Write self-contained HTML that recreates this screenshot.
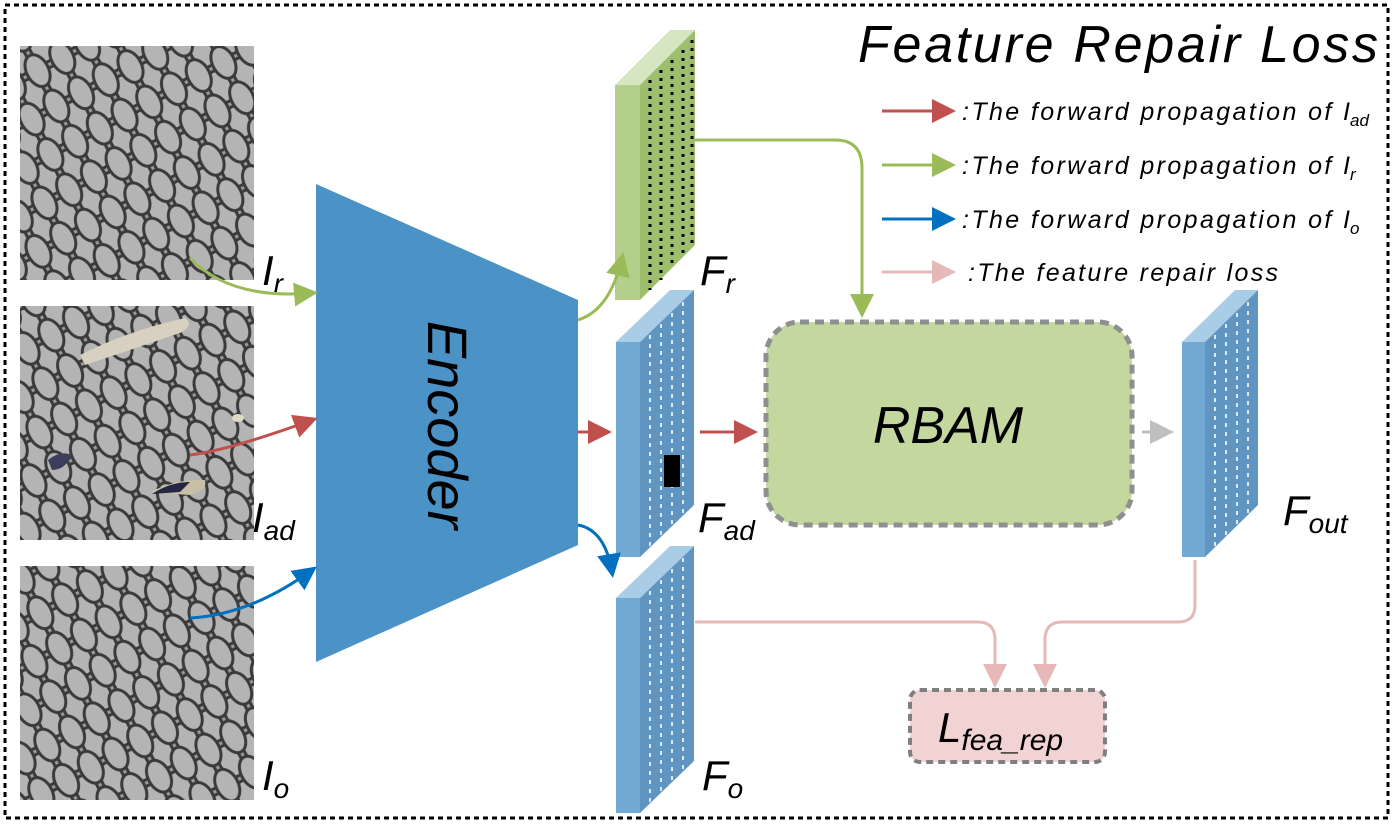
<!DOCTYPE html>
<html><head><meta charset="utf-8"><style>
html,body{margin:0;padding:0;background:#fff;}
svg{display:block;}
text{font-family:"Liberation Sans",sans-serif;font-style:italic;fill:#000;}
</style></head><body>
<svg width="1394" height="824" viewBox="0 0 1394 824" xmlns="http://www.w3.org/2000/svg">
<defs>
<pattern id="mesh" width="28" height="40" patternUnits="userSpaceOnUse" patternTransform="rotate(-28)">
<rect width="28" height="40" fill="#9a9a9a"/>
<ellipse cx="14" cy="20" rx="11" ry="17" fill="#b4b4b4" stroke="#3a3a3a" stroke-width="3"/>
<ellipse cx="0" cy="0" rx="11" ry="17" fill="#b4b4b4" stroke="#3a3a3a" stroke-width="3"/>
<ellipse cx="28" cy="0" rx="11" ry="17" fill="#b4b4b4" stroke="#3a3a3a" stroke-width="3"/>
<ellipse cx="0" cy="40" rx="11" ry="17" fill="#b4b4b4" stroke="#3a3a3a" stroke-width="3"/>
<ellipse cx="28" cy="40" rx="11" ry="17" fill="#b4b4b4" stroke="#3a3a3a" stroke-width="3"/>
</pattern>
<marker id="ar" markerWidth="8" markerHeight="8" refX="6" refY="4" orient="auto" viewBox="0 0 8 8"><path d="M0,0L8,4L0,8z" fill="#c0504d"/></marker>
<marker id="ag" markerWidth="8" markerHeight="8" refX="6" refY="4" orient="auto" viewBox="0 0 8 8"><path d="M0,0L8,4L0,8z" fill="#9bbb59"/></marker>
<marker id="ab" markerWidth="8" markerHeight="8" refX="6" refY="4" orient="auto" viewBox="0 0 8 8"><path d="M0,0L8,4L0,8z" fill="#0070c0"/></marker>
<marker id="ap" markerWidth="8" markerHeight="8" refX="6" refY="4" orient="auto" viewBox="0 0 8 8"><path d="M0,0L8,4L0,8z" fill="#e6b9b8"/></marker>
<marker id="agr" markerWidth="8" markerHeight="8" refX="6" refY="4" orient="auto" viewBox="0 0 8 8"><path d="M0,0L8,4L0,8z" fill="#bfbfbf"/></marker>
</defs>
<rect x="5" y="5" width="1383" height="813" fill="none" stroke="#000" stroke-width="3" stroke-dasharray="5,4"/>
<text x="858" y="62" font-size="52" textLength="520" lengthAdjust="spacing">Feature Repair Loss</text>

<!-- images -->
<rect x="20" y="46" width="234" height="234" fill="url(#mesh)"/>
<rect x="20" y="306" width="234" height="234" fill="url(#mesh)"/>
<rect x="20" y="566" width="234" height="234" fill="url(#mesh)"/>
<path d="M80,355 Q130,330 185,318 Q195,325 180,333 Q130,350 85,365z" fill="#d8d0c0"/>
<path d="M150,492 Q180,478 205,480 Q208,490 190,495z" fill="#c8bfa6"/>
<path d="M152,494 Q170,482 190,482 L180,492z" fill="#262645"/>
<path d="M48,460 Q60,450 72,455 Q65,470 52,470z" fill="#3a3e5c"/>
<ellipse cx="238" cy="418" rx="6" ry="4" fill="#ddd8c8"/>

<text x="262" y="285" font-size="42">I<tspan font-size="28" dy="8">r</tspan></text>
<text x="252" y="532" font-size="42">I<tspan font-size="28" dy="8">ad</tspan></text>
<text x="262" y="790" font-size="42">I<tspan font-size="28" dy="8">o</tspan></text>

<!-- encoder -->
<path d="M316,184 L578,300 L578,545 L316,662z" fill="#4b92c6"/>
<text x="0" y="0" font-size="56" transform="translate(428,425) rotate(90)" text-anchor="middle">Encoder</text>

<!-- input arrows -->
<path d="M190,258 Q230,300 312,293" fill="none" stroke="#9bbb59" stroke-width="3" marker-end="url(#ag)"/>
<path d="M190,455 Q230,450 312,420" fill="none" stroke="#c0504d" stroke-width="3" marker-end="url(#ar)"/>
<path d="M190,618 Q250,615 312,570" fill="none" stroke="#0070c0" stroke-width="3" marker-end="url(#ab)"/>

<!-- Fr -->
<path d="M615,85 L640,85 L695,30 L670,30z" fill="#d6e6c0"/>
<rect x="615" y="85" width="25" height="215" fill="#b3cf8b"/>
<path d="M640,85 L695,30 L695,245 L640,300z" fill="#9dbf6d"/>
<g stroke="#000" stroke-width="3" stroke-dasharray="3,5">
<path d="M650,80 V290 M661,70 V280 M672,60 V268 M683,50 V256 M692,40 V246"/>
</g>
<text x="700" y="285" font-size="42">F<tspan font-size="28" dy="8">r</tspan></text>

<!-- Fad -->
<path d="M616,342 L640,342 L694,290 L670,290z" fill="#a9cde6"/>
<rect x="616" y="342" width="24" height="215" fill="#72aad4"/>
<path d="M640,342 L694,290 L694,505 L640,557z" fill="#5f95c0"/>
<g stroke="#d8ecf8" stroke-width="2" stroke-dasharray="4,5">
<path d="M650,335 V548 M661,324 V537 M672,313 V526 M683,302 V515"/>
</g>
<rect x="664" y="455" width="16" height="32" fill="#000"/>
<text x="698" y="532" font-size="42">F<tspan font-size="28" dy="8">ad</tspan></text>

<!-- Fo -->
<path d="M616,598 L640,598 L694,546 L670,546z" fill="#a9cde6"/>
<rect x="616" y="598" width="24" height="215" fill="#72aad4"/>
<path d="M640,598 L694,546 L694,761 L640,813z" fill="#5f95c0"/>
<g stroke="#d8ecf8" stroke-width="2" stroke-dasharray="4,5">
<path d="M650,591 V804 M661,580 V793 M672,569 V782 M683,558 V771"/>
</g>
<text x="702" y="790" font-size="42">F<tspan font-size="28" dy="8">o</tspan></text>

<!-- Fout -->
<path d="M1182,342 L1205,342 L1258,290 L1235,290z" fill="#a9cde6"/>
<rect x="1182" y="342" width="23" height="215" fill="#72aad4"/>
<path d="M1205,342 L1258,290 L1258,505 L1205,557z" fill="#5f95c0"/>
<g stroke="#d8ecf8" stroke-width="2" stroke-dasharray="4,5">
<path d="M1215,335 V548 M1226,324 V537 M1237,313 V526 M1248,302 V515"/>
</g>
<text x="1283" y="525" font-size="42">F<tspan font-size="28" dy="8">out</tspan></text>

<!-- encoder outputs -->
<path d="M578,320 Q610,310 622,258" fill="none" stroke="#9bbb59" stroke-width="3" marker-end="url(#ag)"/>
<path d="M578,432 L606,432" fill="none" stroke="#c0504d" stroke-width="3" marker-end="url(#ar)"/>
<path d="M578,525 Q605,530 612,572" fill="none" stroke="#0070c0" stroke-width="3" marker-end="url(#ab)"/>
<path d="M700,432 L752,432" fill="none" stroke="#c0504d" stroke-width="3" marker-end="url(#ar)"/>
<path d="M695,140 L835,140 Q862,140 862,168 L862,312" fill="none" stroke="#9bbb59" stroke-width="3" marker-end="url(#ag)"/>

<!-- RBAM -->
<rect x="766" y="322" width="366" height="203" rx="34" fill="#c4d79f" stroke="#8f8f8f" stroke-width="5" stroke-dasharray="9,6"/>
<text x="948" y="443" font-size="52" text-anchor="middle">RBAM</text>
<path d="M1142,432 L1168,432" fill="none" stroke="#bfbfbf" stroke-width="3" marker-end="url(#agr)"/>

<!-- loss -->
<path d="M695,622 L978,622 Q995,622 995,640 L995,682" fill="none" stroke="#e6b9b8" stroke-width="3" marker-end="url(#ap)"/>
<path d="M1195,560 L1195,605 Q1195,622 1178,622 L1062,622 Q1045,622 1045,640 L1045,682" fill="none" stroke="#e6b9b8" stroke-width="3" marker-end="url(#ap)"/>
<rect x="910" y="690" width="195" height="72" rx="10" fill="#f2d3d3" stroke="#7f7f7f" stroke-width="4" stroke-dasharray="7,5"/>
<text x="938" y="742" font-size="42">L<tspan font-size="30" dy="8">fea_rep</tspan></text>

<!-- legend -->
<path d="M882,111 L950,111" stroke="#c0504d" stroke-width="3" marker-end="url(#ar)"/>
<path d="M882,165 L950,165" stroke="#9bbb59" stroke-width="3" marker-end="url(#ag)"/>
<path d="M882,219 L950,219" stroke="#0070c0" stroke-width="3" marker-end="url(#ab)"/>
<path d="M882,272 L950,272" stroke="#e6b9b8" stroke-width="3" marker-end="url(#ap)"/>
<text x="962" y="120" font-size="25" textLength="388" lengthAdjust="spacing">:The forward propagation of I</text>
<text x="1350" y="126" font-size="17">ad</text>
<text x="962" y="174" font-size="25" textLength="388" lengthAdjust="spacing">:The forward propagation of I</text>
<text x="1350" y="180" font-size="17">r</text>
<text x="962" y="228" font-size="25" textLength="388" lengthAdjust="spacing">:The forward propagation of I</text>
<text x="1350" y="234" font-size="17">o</text>
<text x="968" y="281" font-size="25" textLength="310" lengthAdjust="spacing">:The feature repair loss</text>
</svg>
</body></html>
